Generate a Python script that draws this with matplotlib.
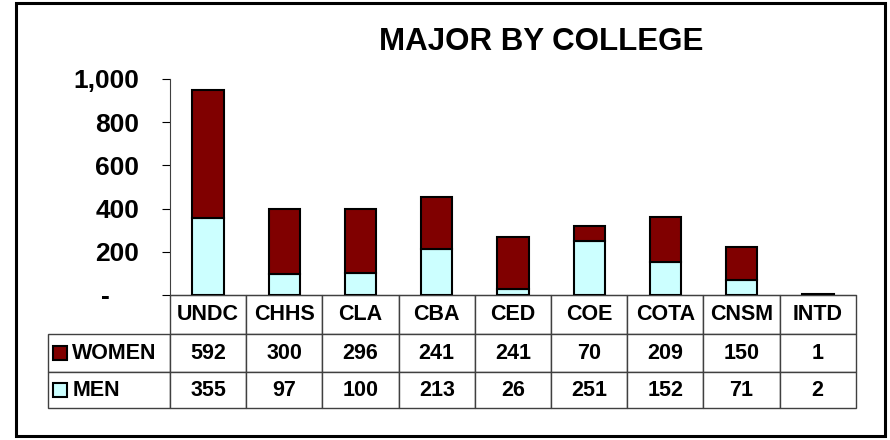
import matplotlib.pyplot as plt
from matplotlib.patches import Rectangle
from matplotlib.table import Table
import numpy as np

colleges = ["UNDC", "CHHS", "CLA", "CBA", "CED", "COE", "COTA", "CNSM", "INTD"]
women = [592, 300, 296, 241, 241, 70, 209, 150, 1]
men = [355, 97, 100, 213, 26, 251, 152, 71, 2]
series_names = ["WOMEN", "MEN"]
yticks = [0, 200, 400, 600, 800, 1000]
ytick_labels = ["-    ", "200", "400", "600", "800", "1,000"]

women_color = "#800000"
men_color = "#CCFFFF"

plt.rcParams['font.family'] = ['Liberation Sans', 'DejaVu Sans']
plt.rcParams['font.weight'] = 'bold'

W, H = 890, 440
fig = plt.figure(figsize=(8.9, 4.4), dpi=100)

# outer frame
fig.patches.append(Rectangle((16 / W, 1 - 436 / H), 869 / W, 433 / H, transform=fig.transFigure,
                             fill=False, edgecolor="black", linewidth=2.2))

ax = fig.add_axes([170 / W, 1 - 295 / H, 686 / W, 216 / H])
x = np.arange(len(colleges))
ax.bar(x, men, width=0.41, color=men_color, edgecolor="black", linewidth=1.5, zorder=3)
ax.bar(x, women, width=0.41, bottom=men, color=women_color, edgecolor="black", linewidth=1.5, zorder=3)

ax.set_xlim(-0.5, len(colleges) - 0.5)
ax.set_ylim(0, 1000)
ax.set_yticks(yticks)
ax.set_yticklabels(ytick_labels, fontsize=19, fontweight="bold")
ax.tick_params(axis="y", length=6, width=0.8, pad=16)
ax.set_xticks([])
for s in ["top", "right"]:
    ax.spines[s].set_visible(False)
ax.spines["left"].set_color("#404040")
ax.spines["bottom"].set_color("#404040")

fig.text(541 / W, 1 - 42 / H, "MAJOR BY COLLEGE", ha="center", va="center",
         fontsize=22.5, fontweight="bold")

# data table below the axis
legend_w = 122
col_w = 76.2
tbl = Table(ax, bbox=[-legend_w / 686, -113 / 216, (legend_w + col_w * len(colleges)) / 686, 113 / 216])
rows = [women, men]
row_h = [39, 38, 36]
fs = 15.5
for j, name in enumerate(colleges):
    c = tbl.add_cell(0, j + 1, width=col_w, height=row_h[0], text=name, loc="center")
    c.get_text().set_fontsize(fs)
    c.get_text().set_fontweight("bold")
    c.set_edgecolor("#404040")
blank = tbl.add_cell(0, 0, width=legend_w, height=row_h[0], text="")
blank.visible_edges = ""
for i, vals in enumerate(rows):
    lc = tbl.add_cell(i + 1, 0, width=legend_w, height=row_h[i + 1], text=series_names[i], loc="left")
    lc.PAD = 0.2
    lc.get_text().set_fontsize(fs)
    lc.get_text().set_fontweight("bold")
    lc.set_edgecolor("#404040")
    for j, v in enumerate(vals):
        c = tbl.add_cell(i + 1, j + 1, width=col_w, height=row_h[i + 1], text=str(v), loc="center")
        c.get_text().set_fontsize(fs)
        c.get_text().set_fontweight("bold")
        c.set_edgecolor("#404040")
tbl.auto_set_font_size(False)
ax.add_table(tbl)

# legend keys inside the table row labels
for i, col in enumerate([women_color, men_color]):
    yc = [353, 390][i]
    ax.add_patch(Rectangle(((53 - 170) / 686, (295 - yc - 7) / 216), 14 / 686, 14 / 216,
                           transform=ax.transAxes, facecolor=col, edgecolor="black",
                           linewidth=1.5, clip_on=False, zorder=5))

fig.savefig("out.png", dpi=100)
